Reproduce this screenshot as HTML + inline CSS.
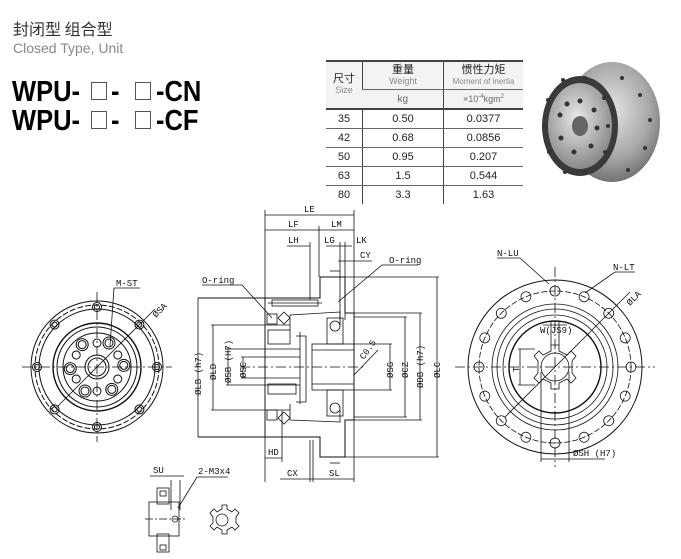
<!DOCTYPE html>
<html><head><meta charset="utf-8"><style>
body{margin:0;background:#fff;width:681px;height:559px;overflow:hidden;position:relative;font-family:"Liberation Sans","Noto Sans CJK SC",sans-serif}
.t{position:absolute;white-space:nowrap}
.w{position:absolute;font-size:29px;font-weight:bold;color:#000;line-height:30px;transform:scaleX(0.88);transform-origin:0 0;white-space:nowrap}
.bx{position:absolute;width:14px;height:16px;border:1px solid #555}
table{position:absolute;left:326px;top:60px;border-collapse:collapse;font-size:11px;color:#222}
td{border-bottom:1px solid #666;text-align:center;padding:0;height:18px}
td+td{border-left:1.5px solid #444}
tr.h td{background:#f3f3f3}
</style></head><body>
<div class="t" style="left:13px;top:16px;font-size:16px;color:#333;font-family:'Noto Sans CJK SC',sans-serif">封闭型 组合型</div>
<div class="t" style="left:13px;top:40px;font-size:14px;color:#888">Closed Type, Unit</div>
<div class="w" style="left:12px;top:77px">WPU-</div><div class="bx" style="left:91px;top:82px"></div><div class="w" style="left:111px;top:77px">-</div><div class="bx" style="left:135px;top:82px"></div><div class="w" style="left:156px;top:77px">-CN</div>
<div class="w" style="left:12px;top:106px">WPU-</div><div class="bx" style="left:91px;top:111px"></div><div class="w" style="left:111px;top:106px">-</div><div class="bx" style="left:135px;top:111px"></div><div class="w" style="left:156px;top:106px">-CF</div>

<table style="border-top:2px solid #444">
<tr class="h"><td rowspan="2" style="width:36px;line-height:11px;border-bottom:2px solid #444">尺寸<br><span style="font-size:9px;color:#888">Size</span></td><td style="width:80px;height:27px;line-height:11px">重量<br><span style="font-size:9px;color:#888">Weight</span></td><td style="width:79px;line-height:11px">惯性力矩<br><span style="font-size:8px;color:#888">Moment of inertia</span></td></tr>
<tr class="h"><td style="border-bottom:2px solid #444;color:#666;font-size:10px">kg</td><td style="border-bottom:2px solid #444;color:#666;font-size:9px">×10<sup style="font-size:6px">-4</sup>kgm<sup style="font-size:6px">2</sup></td></tr>
<tr><td>35</td><td>0.50</td><td>0.0377</td></tr>
<tr><td>42</td><td>0.68</td><td>0.0856</td></tr>
<tr><td>50</td><td>0.95</td><td>0.207</td></tr>
<tr><td>63</td><td>1.5</td><td>0.544</td></tr>
<tr><td style="border-bottom:none">80</td><td style="border-bottom:none">3.3</td><td style="border-bottom:none">1.63</td></tr>
</table>

<svg width="681" height="559" style="position:absolute;left:0;top:0" font-family="Liberation Mono,monospace" font-size="9" fill="none" stroke="#111" stroke-width="0.8">
<defs>
<radialGradient id="g" cx="0.5" cy="0.4" r="0.65"><stop offset="0" stop-color="#e4e4e4"/><stop offset="0.6" stop-color="#a8a8a8"/><stop offset="1" stop-color="#666"/></radialGradient>
<radialGradient id="f" cx="0.45" cy="0.4" r="0.6"><stop offset="0" stop-color="#e8e8e8"/><stop offset="1" stop-color="#8a8a8a"/></radialGradient>
</defs>
<!-- photo -->
<ellipse cx="612" cy="122" rx="48" ry="60" fill="url(#g)" stroke="none"/>
<ellipse cx="580" cy="126" rx="38" ry="50" fill="#3a3a3a" stroke="none"/>
<ellipse cx="580" cy="126" rx="32" ry="43" fill="url(#f)" stroke="none"/>
<ellipse cx="580" cy="126" rx="8" ry="10" fill="#666" stroke="none"/>
<g fill="#333" stroke="none">
<circle cx="580" cy="101" r="2.5"/><circle cx="594" cy="110" r="2.5"/><circle cx="597" cy="128" r="2.5"/><circle cx="591" cy="146" r="2.5"/><circle cx="574" cy="152" r="2.5"/><circle cx="561" cy="138" r="2.5"/><circle cx="560" cy="115" r="2.5"/><circle cx="567" cy="104" r="2.5"/>
<circle cx="548" cy="100" r="2"/><circle cx="545" cy="126" r="2"/><circle cx="549" cy="152" r="2"/><circle cx="565" cy="172" r="2"/><circle cx="586" cy="172" r="2"/><circle cx="605" cy="152" r="2"/><circle cx="608" cy="126" r="2"/><circle cx="604" cy="98" r="2"/><circle cx="585" cy="78" r="2"/><circle cx="563" cy="80" r="2"/>
<circle cx="622" cy="78" r="2"/><circle cx="640" cy="95" r="2"/><circle cx="650" cy="120" r="2"/><circle cx="645" cy="148" r="2"/><circle cx="628" cy="170" r="2"/></g>

<!-- left front view -->
<g transform="translate(97,367)" stroke-width="1">
<line x1="-75" y1="0" x2="75" y2="0" stroke-dasharray="10 3 2 3" stroke-width="0.8"/><line x1="0" y1="-75" x2="0" y2="75" stroke-dasharray="10 3 2 3" stroke-width="0.8"/>
<circle r="66"/><circle r="62" stroke-dasharray="6 2"/><circle r="58"/><circle r="44" stroke-width="1.4"/><circle r="40"/><circle r="34"/><circle r="12"/><circle r="9"/>
<g id="b1"><circle cx="0" cy="-60" r="4.5"/><circle cx="0" cy="-60" r="2.5"/></g>
<use href="#b1" transform="rotate(45)"/><use href="#b1" transform="rotate(90)"/><use href="#b1" transform="rotate(135)"/><use href="#b1" transform="rotate(180)"/><use href="#b1" transform="rotate(225)"/><use href="#b1" transform="rotate(270)"/><use href="#b1" transform="rotate(315)"/>
<g id="b2"><circle cx="12" cy="-24" r="6"/><circle cx="12" cy="-24" r="4"/></g>
<use href="#b2" transform="rotate(60)"/><use href="#b2" transform="rotate(120)"/><use href="#b2" transform="rotate(180)"/><use href="#b2" transform="rotate(240)"/><use href="#b2" transform="rotate(300)"/>
<g id="b3"><circle cx="0" cy="-24" r="4"/></g>
<use href="#b3" transform="rotate(60)"/><use href="#b3" transform="rotate(120)"/><use href="#b3" transform="rotate(180)"/><use href="#b3" transform="rotate(240)"/><use href="#b3" transform="rotate(300)"/>
<line x1="-40" y1="40" x2="58" y2="-58" stroke-width="0.8"/>
</g>
<polyline points="110,346 114,288 140,288"/><text x="116" y="286" fill="#111" stroke="none">M-ST</text>
<text x="156" y="318" fill="#111" stroke="none" transform="rotate(-45 156 318)">ØSA</text>

<!-- section view -->
<g>
<line x1="265" y1="210" x2="265" y2="482"/><line x1="354" y1="210" x2="354" y2="482"/>
<line x1="265" y1="215" x2="354" y2="215"/><text x="304" y="212" fill="#111" stroke="none">LE</text>
<line x1="265" y1="230" x2="354" y2="230"/><line x1="319" y1="226" x2="319" y2="277"/>
<text x="288" y="227" fill="#111" stroke="none">LF</text><text x="331" y="227" fill="#111" stroke="none">LM</text>
<line x1="287" y1="246" x2="310" y2="246"/><line x1="326" y1="246" x2="352" y2="246"/><line x1="310" y1="242" x2="310" y2="300"/><line x1="340" y1="242" x2="340" y2="320"/><line x1="345" y1="242" x2="345" y2="320"/>
<text x="288" y="243" fill="#111" stroke="none">LH</text><text x="324" y="243" fill="#111" stroke="none">LG</text><text x="356" y="243" fill="#111" stroke="none">LK</text>
<line x1="338" y1="261" x2="372" y2="261"/><text x="360" y="258" fill="#111" stroke="none">CY</text>
<polyline points="198,298 320,298 320,277 345,277 345,313 354,313 354,420 345,420 345,457 320,457 320,437 198,437" stroke-width="1"/>
<polyline points="265,298 265,437"/>
<rect x="272" y="300" width="46" height="6"/><line x1="268" y1="303" x2="322" y2="303"/>
<polyline points="290,330 290,315 340,312 340,325"/>
<polyline points="290,404 290,420 340,422 340,410"/>
<rect x="327" y="318" width="16" height="26"/><circle cx="335" cy="326" r="5"/>
<rect x="327" y="390" width="16" height="26"/><circle cx="335" cy="408" r="5"/>
<rect x="312" y="344" width="42" height="46"/><line x1="312" y1="350" x2="354" y2="350"/><line x1="312" y1="384" x2="354" y2="384"/>
<rect x="267" y="314" width="10" height="10"/><rect x="267" y="410" width="10" height="10"/>
<path d="M284 312 l6 6 -6 6 -6 -6z M284 412 l6 6 -6 6 -6 -6z"/>
<rect x="268" y="330" width="22" height="14"/><rect x="268" y="384" width="28" height="10"/>
<polyline points="300,332 300,404"/><polyline points="296,336 306,336 306,402 296,402"/>
<line x1="240" y1="367" x2="365" y2="367" stroke-dasharray="10 3 2 3"/>
<line x1="330" y1="271" x2="340" y2="271"/><line x1="330" y1="463" x2="340" y2="463"/>
<line x1="198" y1="298" x2="198" y2="437"/><text fill="#111" stroke="none" transform="translate(201,395) rotate(-90)">ØLB (h7)</text>
<line x1="213" y1="325" x2="213" y2="410"/><line x1="211" y1="325" x2="290" y2="325"/><line x1="211" y1="410" x2="290" y2="410"/><text fill="#111" stroke="none" transform="translate(216,380) rotate(-90)">ØLD</text>
<line x1="228" y1="349" x2="228" y2="385"/><line x1="226" y1="349" x2="300" y2="349"/><line x1="226" y1="385" x2="300" y2="385"/><text fill="#111" stroke="none" transform="translate(231,383) rotate(-90)">ØSB (H7)</text>
<line x1="243" y1="357" x2="243" y2="378"/><line x1="241" y1="357" x2="300" y2="357"/><line x1="241" y1="378" x2="300" y2="378"/><text fill="#111" stroke="none" transform="translate(246,378) rotate(-90)">ØSC</text>
<line x1="390" y1="344" x2="390" y2="390"/><line x1="354" y1="344" x2="392" y2="344"/><line x1="354" y1="390" x2="392" y2="390"/><text fill="#111" stroke="none" transform="translate(393,378) rotate(-90)">ØSG</text>
<line x1="405" y1="317" x2="405" y2="417"/><line x1="354" y1="317" x2="407" y2="317"/><line x1="354" y1="417" x2="407" y2="417"/><text fill="#111" stroke="none" transform="translate(408,378) rotate(-90)">ØCZ</text>
<line x1="420" y1="313" x2="420" y2="420"/><line x1="354" y1="313" x2="422" y2="313"/><line x1="354" y1="420" x2="422" y2="420"/><text fill="#111" stroke="none" transform="translate(423,388) rotate(-90)">ØDB (h7)</text>
<line x1="437" y1="277" x2="437" y2="457"/><line x1="345" y1="277" x2="439" y2="277"/><line x1="345" y1="457" x2="439" y2="457"/><text fill="#111" stroke="none" transform="translate(440,378) rotate(-90)">ØLC</text>
<polyline points="354,375 378,350"/><text fill="#111" stroke="none" transform="translate(364,360) rotate(-55)">C0.5</text>
<polyline points="272,318 242,285 202,285"/><text x="202" y="283" fill="#111" stroke="none">O-ring</text>
<polyline points="338,302 382,265 418,265"/><text x="389" y="263" fill="#111" stroke="none">O-ring</text>
<line x1="282" y1="410" x2="282" y2="462"/><line x1="265" y1="458" x2="282" y2="458"/><text x="268" y="455" fill="#111" stroke="none">HD</text>
<line x1="310" y1="440" x2="310" y2="482"/><line x1="313" y1="440" x2="313" y2="482"/>
<line x1="280" y1="479" x2="354" y2="479"/><text x="287" y="476" fill="#111" stroke="none">CX</text><text x="329" y="476" fill="#111" stroke="none">SL</text>
</g>

<g>
<rect x="149" y="502" width="30" height="34"/><rect x="157" y="488" width="12" height="16"/><rect x="157" y="534" width="12" height="18"/>
<rect x="160" y="491" width="6" height="5"/><rect x="160" y="545" width="6" height="5"/>
<line x1="145" y1="519" x2="185" y2="519" stroke-dasharray="8 2 2 2"/><circle cx="175" cy="519" r="3"/>
<line x1="171" y1="480" x2="171" y2="510"/><line x1="180" y1="480" x2="180" y2="510"/>
<line x1="150" y1="476" x2="184" y2="476"/><text x="153" y="473" fill="#111" stroke="none">SU</text>
<polyline points="178,508 197,477 228,477"/><text x="198" y="474" fill="#111" stroke="none">2-M3x4</text>
<path d="M222 505 l5 0 0 4 5 3 3 -3 4 4 -3 4 0 6 3 3 -4 4 -3 -3 -5 3 0 4 -5 0 0 -4 -5 -3 -3 3 -4 -4 3 -3 0 -6 -3 -4 4 -4 3 3 5 -3z"/>
<circle cx="222" cy="520" r="6"/>
</g>

<g transform="translate(555,367)">
<line x1="-100" y1="0" x2="100" y2="0" stroke-dasharray="10 3 2 3"/><line x1="0" y1="-100" x2="0" y2="100" stroke-dasharray="10 3 2 3"/>
<circle r="87" stroke-width="1"/><circle r="76" stroke-dasharray="6 2"/><circle r="63"/><circle r="58"/><circle r="52"/><circle r="46" stroke-width="1.4"/>
<g id="h"><circle cx="0" cy="-76" r="5"/></g>
<use href="#h" transform="rotate(22.5)"/><use href="#h" transform="rotate(45)"/><use href="#h" transform="rotate(67.5)"/><use href="#h" transform="rotate(90)"/><use href="#h" transform="rotate(112.5)"/><use href="#h" transform="rotate(135)"/><use href="#h" transform="rotate(157.5)"/><use href="#h" transform="rotate(180)"/><use href="#h" transform="rotate(202.5)"/><use href="#h" transform="rotate(225)"/><use href="#h" transform="rotate(247.5)"/><use href="#h" transform="rotate(270)"/><use href="#h" transform="rotate(292.5)"/><use href="#h" transform="rotate(315)"/><use href="#h" transform="rotate(337.5)"/>
<circle r="14"/>
<path d="M-4 -22 h8 v6 l8 4 4 -4 5 5 -4 5 v12 l4 5 -5 5 -4 -4 -8 4 v6 h-8 v-6 l-8 -4 -4 4 -5 -5 4 -5 v-12 l-4 -5 5 -5 4 4 8 -4z"/>
<line x1="-50" y1="50" x2="75" y2="-75"/>
<line x1="-4" y1="-45" x2="-4" y2="-22"/><line x1="4" y1="-45" x2="4" y2="-22"/><line x1="-12" y1="-42" x2="12" y2="-42"/>
<line x1="-35" y1="-18" x2="-35" y2="18"/><line x1="-37" y1="-18" x2="-20" y2="-18"/><line x1="-37" y1="18" x2="-20" y2="18"/>
<line x1="-14" y1="5" x2="-14" y2="95"/><line x1="14" y1="5" x2="14" y2="95"/><line x1="-14" y1="92" x2="50" y2="92"/>
</g>
<text x="540" y="333" fill="#111" stroke="none">W(JS9)</text>
<text fill="#111" stroke="none" transform="translate(519,372) rotate(-90)">T</text>
<text x="573" y="456" fill="#111" stroke="none">ØSH (H7)</text>
<polyline points="549,284 520,258 497,258"/><text x="497" y="256" fill="#111" stroke="none">N-LU</text>
<polyline points="585,293 615,272 635,272"/><text x="613" y="270" fill="#111" stroke="none">N-LT</text>
<text fill="#111" stroke="none" transform="translate(630,306) rotate(-45)">ØLA</text>
</svg>
</body></html>
